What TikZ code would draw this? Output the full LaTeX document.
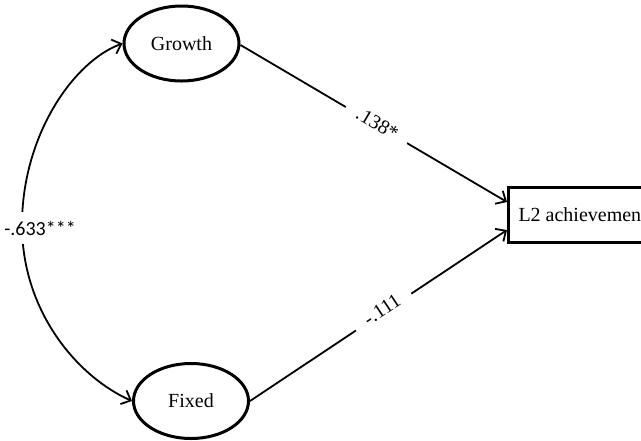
\documentclass[tikz,border=0pt]{standalone}
\usepackage{fontspec}
\setmainfont{Liberation Serif}
\newfontfamily\calibfont{Carlito}
\usetikzlibrary{shapes.geometric,arrows.meta}
\tikzset{
  latent/.style={ellipse, draw, line width=3pt, minimum width=115pt, minimum height=75pt, inner sep=0pt, font=\fontsize{20}{24}\selectfont},
  observed/.style={rectangle, draw, line width=3pt, minimum height=55pt, inner xsep=10pt, anchor=west, font=\fontsize{20}{24}\selectfont},
  path/.style={line width=1.8pt, -{Straight Barb[length=8pt,width=15pt,line width=1.8pt]}},
  covar/.style={line width=1.8pt, {Straight Barb[length=8pt,width=15pt,line width=1.8pt]}-{Straight Barb[length=8pt,width=15pt,line width=1.8pt]}},
  coef/.style={fill=white, inner xsep=13pt, inner ysep=3pt, font=\fontsize{20}{24}\selectfont},
}
\begin{document}
\begin{tikzpicture}[x=1pt, y=-1pt]
  \useasboundingbox (0,0) rectangle (641,440);
  \clip (0,0) rectangle (641,440);

  \node[latent] (g) at (181.5,43.5) {Growth};
  \node[latent] (f) at (191,401) {Fixed};
  \node[observed] (l2) at (507,214.5) {L2 achievement};

  \coordinate (bend) at (22,225);

  % correlation between the two mindsets
  \draw[covar] (g.west) .. controls (74,61) and (22,135) .. (bend)
                        .. controls (22,312) and (78,377) .. (f.west);
  \node[coef, inner xsep=2pt, inner ysep=9pt, font=\calibfont\fontsize{20}{24}\selectfont] (r) at (40,228) {-.633***};

  % regression paths
  \draw[path] ([yshift=-1.5pt]g.east) -- node[coef, sloped, pos=0.51, yshift=2pt] (b1) {.138*} ([yshift=12.5pt]l2.west);
  \draw[path] (f.east) -- node[coef, sloped, pos=0.52, yshift=3pt] (b2) {-.111} ([yshift=-15.5pt]l2.west);
\end{tikzpicture}
\end{document}
